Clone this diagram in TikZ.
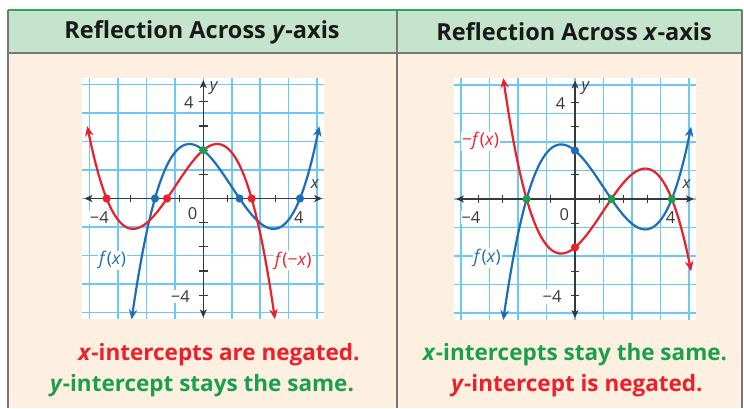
\documentclass[tikz,border=0pt]{standalone}
\usepackage{fontspec}
\setmainfont{Open Sans}
\usetikzlibrary{arrows.meta}
\definecolor{headgreen}{RGB}{197,228,206}
\definecolor{topgreen}{RGB}{40,170,80}
\definecolor{peach}{RGB}{253,240,224}
\definecolor{bordergray}{RGB}{118,118,118}
\definecolor{fblue}{RGB}{28,110,185}
\definecolor{fred}{RGB}{236,32,42}
\definecolor{fgreen}{RGB}{26,160,76}
\definecolor{gridblue}{RGB}{110,200,245}
\definecolor{axisgray}{RGB}{55,55,60}
\newcommand{\drawgridaxes}[1]{%
  \fill[white] (-5,-5) rectangle (5,5);
  \draw[gridline] (-5,-5) grid (5,5);
  \coordinate (#1-xl) at (-4.92,0);
  \coordinate (#1-xr) at (4.92,0);
  \coordinate (#1-yb) at (0,-4.92);
  \coordinate (#1-yt) at (0,4.9);
  \foreach \t in {-4,-3,-2,-1,1,2,3,4} {
    \draw[axisline] (\t,-0.16) -- (\t,0.16);
    \draw[axisline] (-0.18,\t) -- (0.18,\t);
  }
  \draw[axisline,{Stealth[length=8pt,width=7pt,inset=2pt]}-{Stealth[length=8pt,width=7pt,inset=2pt]}] (#1-xl) -- (#1-xr);
  \draw[axisline,{Stealth[length=8pt,width=7pt,inset=2pt]}-{Stealth[length=8pt,width=7pt,inset=2pt]}] (#1-yb) -- (#1-yt);
  \node[ticklab] (#1-y4) at (-0.6,3.95) {4};
  \node[ticklab] (#1-ym4) at (-0.95,-4.05) {−4};
  \node[ticklab] (#1-xm4) at (-4.3,-0.78) {−4};
  \node[ticklab] (#1-x4) at (3.95,-0.78) {4};
  \node[ticklab] (#1-o) at (-0.44,-0.64) {0};
  \node[axlab] (#1-xlab) at (4.62,0.6) {\textit{x}};
  \node[axlab] (#1-ylab) at (0.45,4.58) {\textit{y}};
}
\begin{document}
\begin{tikzpicture}[x=1pt,y=1pt,
  gridline/.style={draw=gridblue,line width=1.6pt},
  axisline/.style={draw=axisgray,line width=1.2pt},
  ticklab/.style={font=\fontsize{16.5}{16.5}\selectfont,text=axisgray,fill=white,inner sep=0.6pt},
  axlab/.style={font=\fontsize{16.5}{16.5}\selectfont,text=axisgray,inner sep=0.5pt},
  curve/.style={line width=2.2pt,{Stealth[length=10pt,width=8.5pt]}-{Stealth[length=10pt,width=8.5pt]},smooth,samples=90},
  blueline/.style={curve,draw=fblue,fill=none},
  redline/.style={curve,draw=fred,fill=none},
  dot/.style={radius=4.1pt},
  headtext/.style={font=\bfseries\fontsize{23.5}{23.5}\selectfont,text={rgb,255:red,25;green,25;blue,25}},
  bodytext/.style={font=\bfseries\fontsize{22.5}{22.5}\selectfont},
  funlab/.style={font=\fontsize{17.5}{17.5}\selectfont,fill=white,inner sep=0.8pt}
]
\useasboundingbox (0,0) rectangle (744,408);
\fill[white] (0,0) rectangle (744,408);
\fill[peach] (8,0) rectangle (742,355);
\fill[headgreen] (8,355) rectangle (742,398);
\draw[topgreen,line width=1.2pt] (8,398) -- (742,398);
\draw[bordergray,line width=1.3pt] (8,355) -- (742,355);
\draw[bordergray,line width=1.3pt] (8,0) -- (8,398);
\draw[bordergray,line width=1.3pt] (742,0) -- (742,398);
\draw[bordergray,line width=1.6pt] (397,0) -- (397,398);

\node[headtext] (h1) at (202,376) {Reflection Across \textit{y}-axis};
\node[headtext] (h2) at (574,376) {Reflection Across \textit{x}-axis};

\node[bodytext,text=fred] (l1) at (219,53) {\textit{x}-intercepts are negated.};
\node[bodytext,text=fgreen] (l2) at (202,22) {\textit{y}-intercept stays the same.};
\node[bodytext,text=fgreen] (r1) at (575,53) {\textit{x}-intercepts stay the same.};
\node[bodytext,text=fred] (r2) at (577,22) {\textit{y}-intercept is negated.};

% left graph
\begin{scope}[shift={(203.3,209.5)},x=24.17pt,y=24.17pt]
  \drawgridaxes{L}
  \draw[blueline,domain=-2.965:4.8] plot (\x,{(\x+2)*(\x-1.5)*(\x-4)/6});
  \draw[redline,domain=-4.8:2.965] plot (\x,{(-\x+2)*(-\x-1.5)*(-\x-4)/6});
  \fill[fred] (-4,0) circle[dot] (-1.5,0) circle[dot] (2,0) circle[dot];
  \fill[fblue] (-2,0) circle[dot] (1.5,0) circle[dot] (4,0) circle[dot];
  \fill[fgreen] (0,2) circle[dot];
  \node[funlab,text=fblue] (Lf) at (-3.75,-2.55) {\textit{f}(\textit{x})};
  \node[funlab,text=fred] (Lg) at (3.72,-2.58) {\textit{f}(−\textit{x})};
\end{scope}

% right graph
\begin{scope}[shift={(575,209)},x=24.2pt,y=24.2pt]
  \drawgridaxes{R}
  \draw[blueline,domain=-2.965:4.8] plot (\x,{(\x+2)*(\x-1.5)*(\x-4)/6});
  \draw[redline,domain=-2.965:4.8] plot (\x,{-(\x+2)*(\x-1.5)*(\x-4)/6});
  \fill[fgreen] (-2,0) circle[dot] (1.5,0) circle[dot] (4,0) circle[dot];
  \fill[fblue] (0,2) circle[dot];
  \fill[fred] (0,-2) circle[dot];
  \node[funlab,text=fred] (Rg) at (-3.9,2.38) {−\textit{f}(\textit{x})};
  \node[funlab,text=fblue] (Rf) at (-3.62,-2.44) {\textit{f}(\textit{x})};
\end{scope}
\end{tikzpicture}
\end{document}
